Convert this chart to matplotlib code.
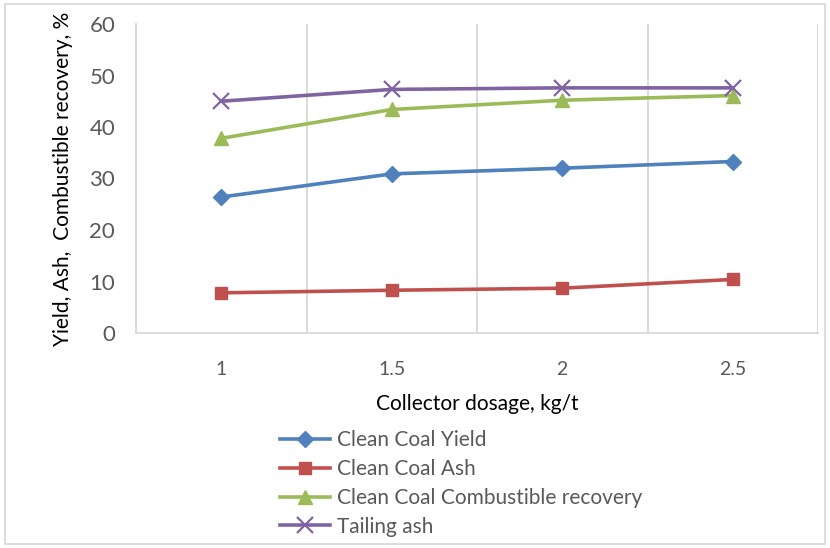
import matplotlib
matplotlib.use("Agg")
import matplotlib.pyplot as plt
from matplotlib.patches import Rectangle

categories = ["1", "1.5", "2", "2.5"]
yield_vals = [26.4, 30.9, 32.0, 33.3]
ash_vals = [7.8, 8.3, 8.7, 10.4]
recovery_vals = [37.8, 43.4, 45.2, 46.1]
tailing_vals = [45.0, 47.3, 47.6, 47.6]

plt.rcParams['font.family'] = ['Lato', 'DejaVu Sans']

fig = plt.figure(figsize=(8.3, 5.48), dpi=100)
W, H = 830, 548
ax = fig.add_axes([136/W, 1-333/H, (818-136)/W, (333-24)/H])

x = list(range(len(categories)))
ax.plot(x, yield_vals, color='#4F81BD', lw=2.6, marker='D', ms=8, label='Clean Coal Yield')
ax.plot(x, ash_vals, color='#C0504D', lw=2.6, marker='s', ms=9, label='Clean Coal Ash')
ax.plot(x, recovery_vals, color='#9BBB59', lw=2.6, marker='^', ms=10, label='Clean Coal Combustible recovery')
ax.plot(x, tailing_vals, color='#8064A2', lw=2.6, marker='x', ms=11, mew=1.6, label='Tailing ash')

ax.set_xlim(-0.5, 3.5)
ax.set_ylim(0, 60)
ax.set_yticks(range(0, 61, 10))
ax.set_xticks(x)
ax.set_xticklabels(categories)
for g in [0.5, 1.5, 2.5, 3.5]:
    ax.axvline(g, color='#D9D9D9', lw=1.3, zorder=0)
for s in ['top', 'right']:
    ax.spines[s].set_visible(False)
for s in ['left', 'bottom']:
    ax.spines[s].set_color('#D9D9D9')
    ax.spines[s].set_linewidth(1.3)
ax.tick_params(axis='both', length=0, colors='#595959')
ax.tick_params(axis='y', labelsize=16, pad=15)
ax.tick_params(axis='x', labelsize=14, pad=20)

ax.set_xlabel('Collector dosage, kg/t', fontsize=15, color='#000000', labelpad=12)
ax.set_ylabel('Yield, Ash,  Combustible recovery, %', fontsize=15, color='#000000', labelpad=12)

handles, labels = ax.get_legend_handles_labels()
leg = fig.legend(handles, labels, loc='upper left', bbox_to_anchor=(272/W, 1-422/H),
                 frameon=False, fontsize=15, labelcolor='#595959', handlelength=2.4,
                 handletextpad=0.3, labelspacing=0.42, borderaxespad=0)

fig.patches.append(Rectangle((5/W, 4/H), 820/W, 540/H, transform=fig.transFigure,
                             fill=False, edgecolor='#D9D9D9', lw=1.3))

fig.savefig('out.png', dpi=100)
